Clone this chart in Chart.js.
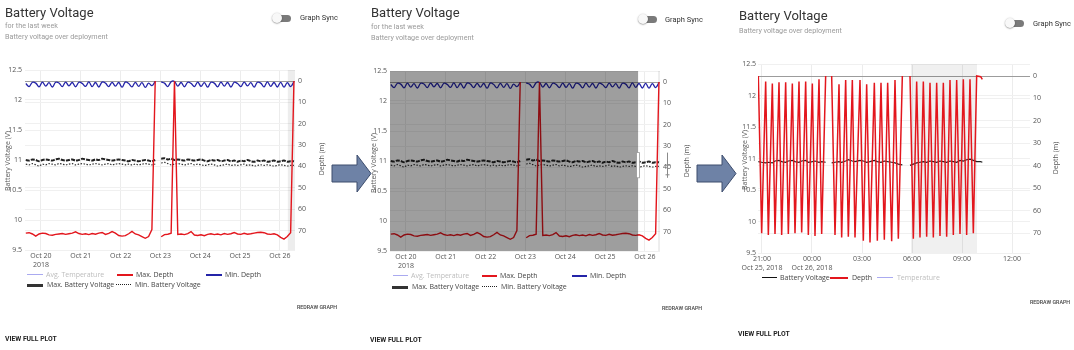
<!DOCTYPE html>
<html><head><meta charset="utf-8">
<script src="https://cdn.jsdelivr.net/npm/chart.js@4.4.1/dist/chart.umd.min.js"></script>
<style>
html,body{margin:0;padding:0;background:#fff;}
#root{position:relative;width:1074px;height:350px;overflow:hidden;font-family:Roboto,"Open Sans",sans-serif;}
.t{position:absolute;white-space:nowrap;}
.title{font-size:13px;color:#333;line-height:16px;}
.sub{font-size:7.2px;color:#9a9a9a;line-height:10px;}
.sync{font-size:7.5px;color:#333;line-height:10px;}
.leg{font-family:"Open Sans",sans-serif;font-size:7px;color:#444;line-height:10px;}
.legoff{font-family:"Open Sans",sans-serif;font-size:7px;color:#bdbdbd;line-height:10px;}
.redraw{font-size:5.3px;color:#444;font-weight:500;line-height:8px;}
.view{font-size:6.8px;color:#222;font-weight:700;line-height:10px;}
.ax{position:absolute;white-space:nowrap;font-family:"Open Sans",sans-serif;font-size:7px;color:#555;line-height:10px;transform:translate(-50%,-50%) rotate(-90deg);}
.track{position:absolute;width:15px;height:7px;border-radius:4px;background:#7a7a7a;}
.knob{position:absolute;width:10px;height:10px;border-radius:50%;background:#f8f8f8;box-shadow:0 0.5px 1.5px rgba(0,0,0,0.5);}
.ic{position:absolute;height:0;}
canvas{position:absolute;}
</style></head>
<body>
<div id="root">
<canvas id="c1" width="340" height="215" style="left:0px;top:62px;width:340px;height:215px"></canvas>
<canvas id="c2" width="340" height="215" style="left:365px;top:63px;width:340px;height:215px"></canvas>
<canvas id="c3" width="359" height="225" style="left:715px;top:55px;width:359px;height:225px"></canvas>
<svg style="position:absolute;left:0;top:0" width="1074" height="350">
<polygon points="332,165 357,165 357,155 371,173.5 357,192 357,182 332,182" fill="#6e82a6" stroke="#3d4d6d" stroke-width="1"/>
<polygon points="697,165 722,165 722,155 736,173.5 722,192 722,182 697,182" fill="#6e82a6" stroke="#3d4d6d" stroke-width="1"/>
</svg>
</div>
<script>
// ---------- data: week panels (days of October 2018) ----------
const weekStartA = 19.62, weekStartB = 23.02, weekStepDays = 1/12;
const maxDepthA = [71.2,71.0,71.6,72.6,71.6,71.2,71.4,72.0,72.2,71.8,71.6,71.4,71.8,71.5,71.2,70.6,71.4,71.8,71.5,71.9,71.4,71.7,71.2,70.9,71.8,71.3,70.5,71.2,72.3,72.6,72.4,71.5,70.4,71.6,72.0,72.8,73.6,72.8,69.5,0];
const maxDepthB = [72.9,71.9,71.7,71.2,0,71.8,71.6,71.9,71.4,70.5,72.1,72.3,72.0,72.4,71.8,71.5,71.9,71.6,72.0,71.4,71.8,71.5,70.9,71.6,71.8,71.3,71.7,71.5,71.2,70.9,70.8,71.0,71.6,71.8,71.5,72.0,73.2,74.0,72.8,71.0,0];
const minDepthA = [1.2,2.6,0.6,1.0,2.7,0.5,2.4,0.8,2.8,0.6,0.9,2.6,0.5,2.3,0.7,2.7,0.6,1.1,2.5,0.4,2.6,0.7,2.8,0.5,1.0,2.6,0.6,2.4,0.7,2.9,0.5,1.2,2.7,0.6,2.5,0.8,3.0,1.0,2.2,0.2];
const minDepthB = [0.4,1.0,2.6,0.3,0.2,2.4,0.7,2.7,0.6,1.1,2.6,0.5,2.5,0.8,2.9,0.6,1.0,2.7,0.5,2.4,0.7,2.8,0.6,1.2,2.6,0.5,2.3,0.8,2.9,0.6,1.0,2.7,0.4,2.5,0.7,2.8,0.6,2.9,0.8,2.6,0.3];
const maxVoltA = [11.00,10.99,11.01,11.00,10.98,11.00,11.01,11.00,10.99,11.01,11.02,11.00,10.99,11.00,11.01,10.99,11.00,11.02,11.01,11.00,10.99,11.01,11.00,11.02,11.01,11.00,10.99,11.00,11.01,11.00,10.99,10.98,11.00,10.99,10.98,10.99,11.00,10.99,10.98,11.00];
const maxVoltB = [11.02,11.03,11.01,11.02,11.00,11.01,11.00,10.99,11.01,11.00,10.99,11.00,11.01,10.99,10.98,11.00,10.99,11.00,10.98,10.99,11.00,10.98,10.99,10.97,10.99,10.98,11.00,10.98,10.97,10.99,10.98,10.99,10.97,10.98,10.99,10.97,10.98,10.99,10.97,10.98,10.98];
const minVoltA = [10.93,10.92,10.94,10.92,10.90,10.93,10.92,10.94,10.93,10.92,10.94,10.93,10.92,10.93,10.94,10.92,10.93,10.94,10.93,10.92,10.93,10.94,10.93,10.92,10.93,10.94,10.92,10.93,10.94,10.93,10.92,10.93,10.92,10.93,10.92,10.93,10.94,10.93,10.92,10.93];
const minVoltB = [10.95,10.96,10.94,10.92,10.93,10.94,10.93,10.92,10.93,10.94,10.92,10.93,10.92,10.91,10.92,10.93,10.92,10.90,10.91,10.92,10.93,10.91,10.92,10.91,10.92,10.93,10.91,10.92,10.90,10.91,10.92,10.91,10.92,10.91,10.90,10.91,10.92,10.91,10.90,10.91,10.91];
const weekTickDays = [20,21,22,23,24,25,26];
const weekTickLabels = [['Oct 20','2018'],'Oct 21','Oct 22','Oct 23','Oct 24','Oct 25','Oct 26'];

// ---------- data: deployment panel (hours since Oct 25 00:00) ----------
const deployHours = [20.78,20.98,21.22,21.38,21.62,21.78,22.02,22.18,22.42,22.58,22.82,22.98,23.22,23.38,23.62,23.78,24.02,24.18,24.42,24.58,24.82,
  25.0,
  25.18,25.38,25.62,25.78,26.02,26.18,26.42,26.58,26.88,27.08,27.28,27.48,27.74,27.92,28.14,28.34,28.54,28.78,28.98,29.18,29.42,
  29.65,
  29.88,30.08,30.28,30.48,30.68,30.88,31.08,31.28,31.48,31.68,31.88,32.08,32.28,32.48,32.68,32.88,33.08,33.28,33.48,33.68,33.88,34.12,34.22];
const deployDepth = [0,70.1,2.5,70.9,3.3,70.4,2.8,70.9,2.8,70.4,3.3,70.1,2.5,69.8,2.5,70.9,3.3,71.3,1.5,70.4,0,
  null,
  0,70.9,3.7,72.0,1.8,71.6,1.8,72.0,1.8,73.4,3.7,74.2,3.0,73.4,3.0,73.0,3.0,73.6,1.8,72.5,0,
  null,
  0,72.5,2.5,72.0,2.5,71.6,3.0,72.0,3.0,71.3,3.0,71.6,1.8,70.9,1.8,70.4,1.5,70.9,1.5,70.1,0,0.3,1.5];
const deployVolt = [10.95,10.94,10.93,10.94,10.93,10.96,10.97,10.95,10.94,10.96,10.97,10.95,10.94,10.96,10.97,10.94,10.95,10.96,10.94,10.95,10.94,
  null,
  10.93,10.94,10.95,10.94,10.96,10.98,10.96,10.95,10.97,10.96,10.94,10.95,10.97,10.95,10.94,10.96,10.95,10.94,10.93,10.91,10.90,
  null,
  10.89,10.91,10.93,10.94,10.95,10.94,10.96,10.95,10.94,10.96,10.95,10.94,10.96,10.95,10.94,10.97,10.96,10.98,10.99,10.97,10.95,10.95,10.94];
const hourTicks = [21,24,27,30,33,36];
const hourTickLabels = [['21:00','Oct 25, 2018'],['00:00','Oct 26, 2018'],'03:00','06:00','09:00','12:00'];

// ---------- shared axis ticks ----------
const voltTicks = [9.5,10,10.5,11,11.5,12,12.5];
const voltTickLabels = ['9.5','10','10.5','11','11.5','12','12.5'];
const depthTicks = [0,10,20,30,40,50,60,70];
const depthTickLabels = ['0','10','20','30','40','50','60','70'];

const RED = '#e3161d', BLUE = '#2424a8', LAV = '#aaaaf0';

Chart.defaults.font.family = '"Open Sans", sans-serif';
Chart.defaults.font.size = 7;
Chart.defaults.color = '#555';

function weekSeries(a, b) {
  const pts = a.map((v, i) => ({x: weekStartA + i * weekStepDays, y: v}));
  pts.push({x: (weekStartA + a.length * weekStepDays + weekStartB) / 2, y: null});
  b.forEach((v, i) => pts.push({x: weekStartB + i * weekStepDays, y: v}));
  return pts;
}
function zip(xs, ys) { return xs.map((x, i) => ({x: x, y: ys[i]})); }

function drawBands(chart, bands) {
  if (!bands) return;
  const ctx = chart.ctx, a = chart.chartArea, xs = chart.scales.x;
  bands.forEach(b => {
    const x0 = Math.max(a.left, xs.getPixelForValue(b.from));
    const x1 = Math.min(a.right, xs.getPixelForValue(b.to));
    ctx.save(); ctx.fillStyle = b.color; ctx.fillRect(x0, a.top, x1 - x0, a.bottom - a.top); ctx.restore();
  });
}
const shadePlugin = {
  id: 'shade',
  beforeDatasetsDraw(chart, args, opts) { drawBands(chart, opts.under); },
  afterDatasetsDraw(chart, args, opts) {
    drawBands(chart, opts.over);
    if (opts.handleAt !== undefined) {
      const ctx = chart.ctx, xs = chart.scales.x, ys = chart.scales.y;
      const hx = xs.getPixelForValue(opts.handleAt);
      const y0 = ys.getPixelForValue(11.14), y1 = ys.getPixelForValue(10.72);
      ctx.save();
      ctx.fillStyle = '#ffffff'; ctx.strokeStyle = '#9a9a9a'; ctx.lineWidth = 0.8;
      ctx.fillRect(hx - 1.5, y0, 3, y1 - y0); ctx.strokeRect(hx - 1.5, y0, 3, y1 - y0);
      const rx = chart.chartArea.right + 7.5;
      ctx.strokeStyle = '#8a8a8a'; ctx.lineWidth = 1;
      ctx.beginPath(); ctx.moveTo(rx, y0); ctx.lineTo(rx, y1);
      ctx.moveTo(rx - 3, (y0 + y1) / 2); ctx.lineTo(rx + 3, (y0 + y1) / 2);
      ctx.moveTo(rx - 2, y1 - 3); ctx.lineTo(rx + 2, y1 - 3);
      ctx.stroke(); ctx.restore();
    }
  }
};

function axes(o) {
  return {
    x: {
      type: 'linear', min: o.xmin, max: o.xmax,
      afterBuildTicks: s => { s.ticks = o.xticks.map(v => ({value: v})); },
      afterFit: s => { s.height = 27; },
      ticks: { autoSkip: false, maxRotation: 0, padding: 2, color: '#555',
        callback: v => { const i = o.xticks.indexOf(v); return i >= 0 ? o.xlabels[i] : ''; } },
      grid: { color: '#ececec', drawTicks: false }, border: { display: false }
    },
    y: {
      position: 'left', min: 9.5, max: 12.5,
      afterBuildTicks: s => { s.ticks = voltTicks.map(v => ({value: v})); },
      afterFit: s => { s.width = o.yw; },
      ticks: { padding: o.ypad, color: '#555', callback: v => voltTickLabels[voltTicks.indexOf(v)] },
      grid: { color: '#f0f0f0', drawTicks: false }, border: { display: false }
    },
    y2: {
      position: 'right', reverse: true, min: o.dmin, max: o.dmax,
      afterBuildTicks: s => { s.ticks = depthTicks.map(v => ({value: v})); },
      afterFit: s => { s.width = o.y2w; },
      ticks: { padding: 3, color: '#555', callback: v => depthTickLabels[depthTicks.indexOf(v)] },
      grid: { color: c => (c.tick && c.tick.value === 0) ? '#9c9c9c' : '#f0f0f0', drawTicks: false },
      border: { display: false }
    }
  };
}

function weekChart(id, shade) {
  return new Chart(document.getElementById(id), {
    type: 'line',
    data: { datasets: [
      { label: 'Max. Depth', data: weekSeries(maxDepthA, maxDepthB), yAxisID: 'y2', borderColor: RED, borderWidth: 1.4, tension: 0 },
      { label: 'Min. Depth', data: weekSeries(minDepthA, minDepthB), yAxisID: 'y2', borderColor: BLUE, borderWidth: 1.3, tension: 0.4 },
      { label: 'Max. Battery Voltage', data: weekSeries(maxVoltA, maxVoltB), yAxisID: 'y', borderColor: '#222', borderWidth: 2, borderDash: [4, 1.2], tension: 0.3 },
      { label: 'Min. Battery Voltage', data: weekSeries(minVoltA, minVoltB), yAxisID: 'y', borderColor: '#333', borderWidth: 1.2, borderDash: [1.5, 1.5], tension: 0.3 },
      { label: 'Avg. Temperature', data: [], yAxisID: 'y', borderColor: LAV, hidden: true }
    ]},
    options: {
      responsive: false, animation: false, events: [], devicePixelRatio: 1,
      layout: { padding: { top: 8, left: 0, right: 0, bottom: 0 } },
      elements: { point: { radius: 0 } },
      plugins: { legend: { display: false }, tooltip: { enabled: false }, shade: shade },
      scales: axes({ xmin: 19.6, xmax: 26.38, xticks: weekTickDays, xlabels: weekTickLabels, yw: 25, ypad: 3, y2w: 45, dmin: -5.15, dmax: 79.1 })
    },
    plugins: [shadePlugin]
  });
}

weekChart('c1', { under: [{ from: 26.2, to: 26.4, color: 'rgba(0,0,0,0.07)' }] });
weekChart('c2', { under: [{ from: 26.33, to: 26.4, color: 'rgba(0,0,0,0.07)' }],
                  over: [{ from: 19.5, to: 25.83, color: 'rgba(0,0,0,0.38)' }], handleAt: 25.83 });

new Chart(document.getElementById('c3'), {
  type: 'line',
  data: { datasets: [
    { label: 'Depth', data: zip(deployHours, deployDepth), yAxisID: 'y2', borderColor: RED, borderWidth: 1.5, tension: 0 },
    { label: 'Battery Voltage', data: zip(deployHours, deployVolt), yAxisID: 'y', borderColor: '#222', borderWidth: 1.2, tension: 0 },
    { label: 'Temperature', data: [], yAxisID: 'y', borderColor: LAV, hidden: true }
  ]},
  options: {
    responsive: false, animation: false, events: [], devicePixelRatio: 1,
    layout: { padding: { top: 9, left: 0, right: 0, bottom: 0 } },
    elements: { point: { radius: 0 } },
    plugins: { legend: { display: false }, tooltip: { enabled: false },
      shade: { under: [{ from: 29.94, to: 33.9, color: 'rgba(0,0,0,0.06)' }] } },
    scales: axes({ xmin: 20.76, xmax: 37.08, xticks: hourTicks, xlabels: hourTickLabels, yw: 43, ypad: 2, y2w: 44, dmin: -5.35, dmax: 78.9 })
  },
  plugins: [shadePlugin]
});

// ---------- page text ----------
const root = document.getElementById('root');
const LH = { title: 16, sub: 10, sync: 10, leg: 10, legoff: 10, redraw: 8, view: 10 };
function T(x, cy, text, cls) {
  const d = document.createElement('div');
  d.className = 't ' + cls; d.textContent = text;
  d.style.left = x + 'px'; d.style.top = (cy - LH[cls] / 2) + 'px';
  root.appendChild(d);
}
function AX(cx, cy, text) {
  const d = document.createElement('div');
  d.className = 'ax'; d.textContent = text;
  d.style.left = cx + 'px'; d.style.top = cy + 'px';
  root.appendChild(d);
}
function IC(x1, x2, cy, border) {
  const d = document.createElement('div');
  d.className = 'ic'; d.style.left = x1 + 'px'; d.style.width = (x2 - x1) + 'px';
  d.style.top = (cy - 1) + 'px'; d.style.borderTop = border;
  root.appendChild(d);
}
function SW(kx, ky) {
  const tr = document.createElement('div'); tr.className = 'track';
  tr.style.left = (kx + 4) + 'px'; tr.style.top = (ky + 1.5) + 'px'; root.appendChild(tr);
  const k = document.createElement('div'); k.className = 'knob';
  k.style.left = kx + 'px'; k.style.top = ky + 'px'; root.appendChild(k);
}

// panel 1
T(5, 12.8, 'Battery Voltage', 'title');
T(5, 25.5, 'for the last week', 'sub');
T(5, 36.5, 'Battery voltage over deployment', 'sub');
SW(272, 13); T(300, 18, 'Graph Sync', 'sync');
AX(8, 161, 'Battery Voltage (V)'); AX(322, 159, 'Depth (m)');
IC(27, 43, 274.5, '1.5px solid ' + LAV); T(46, 274.5, 'Avg. Temperature', 'legoff');
IC(117, 133, 274.5, '2px solid ' + RED); T(136, 274.5, 'Max. Depth', 'leg');
IC(206, 222, 274.5, '2px solid ' + BLUE); T(225, 274.5, 'Min. Depth', 'leg');
IC(27, 43, 285.3, '3px solid #333'); T(47, 285.3, 'Max. Battery Voltage', 'leg');
IC(116, 131, 285.3, '1.5px dotted #222'); T(135, 285.3, 'Min. Battery Voltage', 'leg');
T(297, 307.3, 'REDRAW GRAPH', 'redraw');
T(5, 339, 'VIEW FULL PLOT', 'view');

// panel 2
T(371, 13, 'Battery Voltage', 'title');
T(371, 26.5, 'for the last week', 'sub');
T(371, 38, 'Battery voltage over deployment', 'sub');
SW(638, 14); T(665, 20, 'Graph Sync', 'sync');
AX(374, 163, 'Battery Voltage (V)'); AX(687, 161, 'Depth (m)');
IC(393, 408, 275.7, '1.5px solid ' + LAV); T(411, 275.7, 'Avg. Temperature', 'legoff');
IC(482, 497, 275.7, '2px solid ' + RED); T(500, 275.7, 'Max. Depth', 'leg');
IC(572, 587, 275.7, '2px solid ' + BLUE); T(590, 275.7, 'Min. Depth', 'leg');
IC(392, 408, 286.7, '3px solid #333'); T(412, 286.7, 'Max. Battery Voltage', 'leg');
IC(482, 497, 286.7, '1.5px dotted #222'); T(501, 286.7, 'Min. Battery Voltage', 'leg');
T(662, 308.3, 'REDRAW GRAPH', 'redraw');
T(370, 340, 'VIEW FULL PLOT', 'view');

// panel 3
T(739, 16.2, 'Battery Voltage', 'title');
T(739, 31, 'Battery voltage over deployment', 'sub');
SW(1005, 18); T(1033, 23.7, 'Graph Sync', 'sync');
AX(745, 160, 'Battery Voltage (V)'); AX(1056, 158, 'Depth (m)');
IC(762, 777, 278.3, '1.5px solid #111'); T(780, 278.3, 'Battery Voltage', 'leg');
IC(830, 848, 278.3, '2px solid ' + RED); T(852, 278.3, 'Depth', 'leg');
IC(877, 893, 278.3, '1.5px solid ' + LAV); T(897, 278.3, 'Temperature', 'legoff');
T(1030, 301.7, 'REDRAW GRAPH', 'redraw');
T(738, 334, 'VIEW FULL PLOT', 'view');
</script>
</body></html>
